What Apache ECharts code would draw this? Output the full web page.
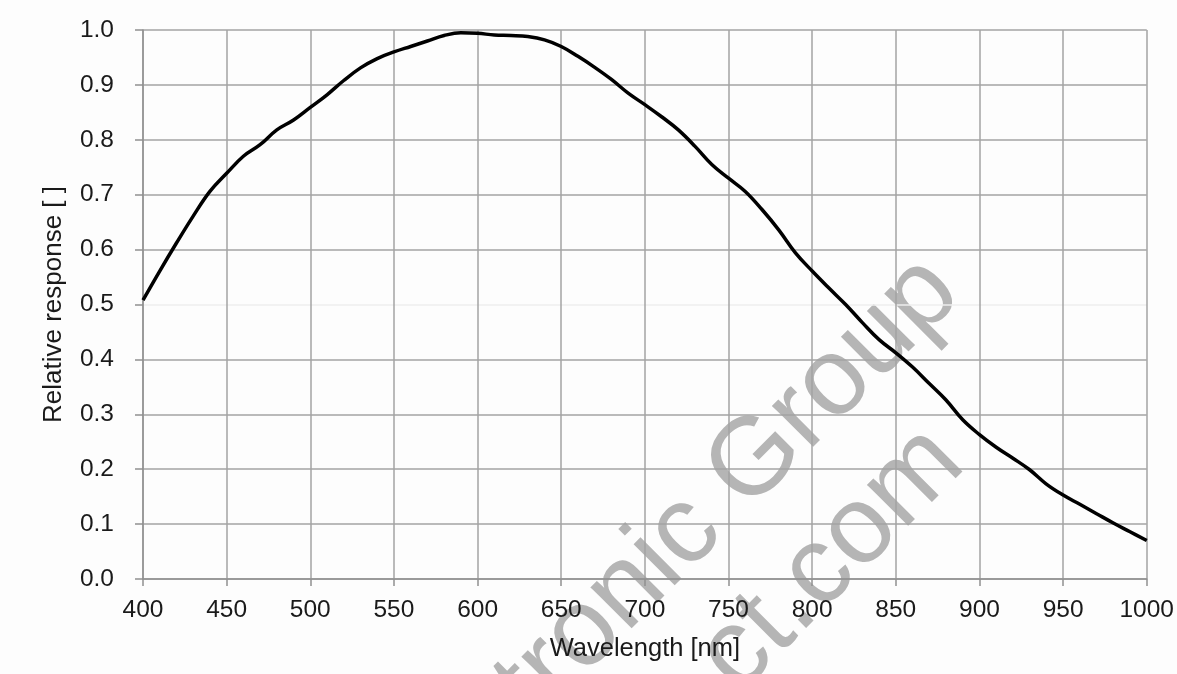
<!DOCTYPE html>
<html>
<head>
<meta charset="utf-8">
<script src="https://cdn.jsdelivr.net/npm/echarts@6/dist/echarts.min.js"></script>
<style>
html,body{margin:0;padding:0;background:#fdfdfd;overflow:hidden;}
#chart{width:1177px;height:674px;}
</style>
</head>
<body>
<div id="chart"></div>
<script>
// Wavelength (nm)
var wavelengths = [400,410,420,430,440,450,460,470,480,490,500,510,520,530,540,550,560,570,580,590,600,610,620,630,640,650,660,670,680,690,700,710,720,730,740,750,760,770,780,790,800,810,820,830,840,850,860,870,880,890,900,910,920,930,940,950,960,970,980,990,1000];
// Relative response
var response = [0.508,0.561,0.612,0.661,0.706,0.739,0.770,0.791,0.818,0.836,0.859,0.882,0.908,0.931,0.948,0.960,0.970,0.980,0.990,0.995,0.994,0.991,0.990,0.988,0.982,0.970,0.952,0.932,0.910,0.885,0.864,0.842,0.818,0.788,0.755,0.730,0.706,0.673,0.636,0.594,0.561,0.530,0.500,0.467,0.436,0.412,0.386,0.356,0.326,0.290,0.263,0.240,0.220,0.199,0.173,0.153,0.136,0.119,0.102,0.086,0.070];
var xTicks = {min:400, max:1000, step:50};
var yTicks = {min:0, max:1.0, step:0.1};
var xName = 'Wavelength [nm]';
var yName = 'Relative response [ ]';
var watermark = ['tronic Group', 'ct.com'];

var pts = wavelengths.map(function(w,i){ return [w, response[i]]; });
var gridC = '#a3a3a3';
var splitColors = [gridC,gridC,gridC,gridC,gridC,'#eeeeee',gridC,gridC,gridC,gridC,gridC];
var font = '"Liberation Sans", Arial, sans-serif';
var rot = 45*Math.PI/180;

var chart = echarts.init(document.getElementById('chart'));
chart.setOption({
  backgroundColor: '#fdfdfd',
  animation: false,
  grid: {left:143, right:22, top:30, bottom:95, containLabel:false},
  xAxis: {
    type:'value', min:xTicks.min, max:xTicks.max, interval:xTicks.step,
    name:xName, nameLocation:'middle', nameGap:57,
    nameTextStyle:{fontFamily:font, fontSize:25.5, color:'#1a1a1a'},
    axisLine:{show:true, lineStyle:{color:'#909090', width:1.5}},
    axisTick:{show:true, length:7, lineStyle:{color:'#909090', width:1.5}},
    axisLabel:{fontFamily:font, fontSize:24.5, color:'#1a1a1a', margin:19,
      formatter:function(v){ return String(v); }},
    splitLine:{show:true, lineStyle:{color:gridC, width:1.5}}
  },
  yAxis: {
    type:'value', min:yTicks.min, max:yTicks.max, interval:yTicks.step,
    name:yName, nameLocation:'middle', nameGap:76, nameRotate:90,
    nameTextStyle:{fontFamily:font, fontSize:26, color:'#1a1a1a'},
    axisLine:{show:true, lineStyle:{color:'#909090', width:1.5}},
    axisTick:{show:true, length:8, lineStyle:{color:'#909090', width:1.5}},
    axisLabel:{fontFamily:font, fontSize:24.5, color:'#1a1a1a', margin:29,
      formatter:function(v){ return v.toFixed(1); }},
    splitLine:{show:true, lineStyle:{color:splitColors, width:1.5}}
  },
  graphic: [
    {type:'text', x:553, y:742, rotation:rot, z:-10, silent:true,
     style:{text:watermark[0], fill:'#b5b5b5', font:'110px "Liberation Sans", Arial, sans-serif', textAlign:'left', textVerticalAlign:'bottom'}},
    {type:'text', x:756, y:713, rotation:rot, z:-10, silent:true,
     style:{text:watermark[1], fill:'#b5b5b5', font:'110px "Liberation Sans", Arial, sans-serif', textAlign:'left', textVerticalAlign:'bottom'}}
  ],
  series: [{
    type:'line', data:pts, smooth:0.4, showSymbol:false,
    lineStyle:{color:'#000', width:3.5}, z:5
  }]
});
</script>
</body>
</html>
